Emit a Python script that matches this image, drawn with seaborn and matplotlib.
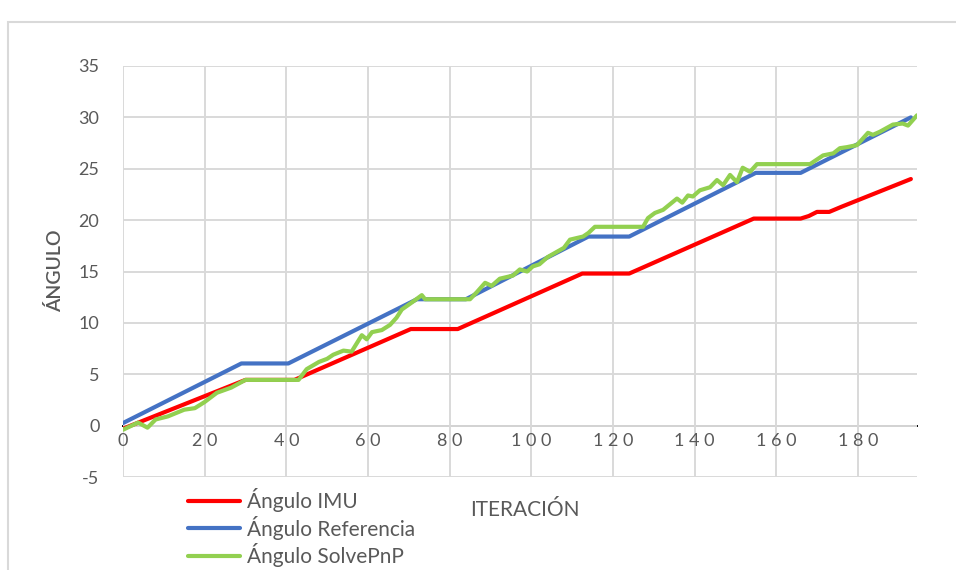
import matplotlib
matplotlib.use("Agg")
import matplotlib.pyplot as plt
from matplotlib.patches import Rectangle
import pandas as pd
import seaborn as sns

# Iteration / angle series
imu_x = [0, 30, 42, 70.5, 82, 112.5, 124, 154.5, 166, 168, 170, 173, 176, 193]
imu_y = [-0.3, 4.45, 4.45, 9.4, 9.4, 14.8, 14.8, 20.15, 20.15, 20.4, 20.8, 20.8, 21.3, 24.0]

ref_x = [0, 29, 40.5, 72, 84, 114, 124, 155, 166, 193]
ref_y = [0.25, 6.05, 6.05, 12.3, 12.3, 18.4, 18.4, 24.6, 24.6, 30.0]

pnp_x = [0, 3.7, 6, 8, 11, 15, 17.6, 20, 23, 26.5, 30, 43, 45, 48, 50, 51.5, 54, 56,
         58.5, 59.7, 61, 63.4, 65.4, 67, 68.3, 70.8, 73.2, 74, 85, 86.7, 88.7, 90.3,
         92.3, 95.5, 97.2, 99, 100.4, 102, 104, 108, 109.5, 112.7, 114, 115.6, 127.4,
         128.6, 130.3, 132.3, 135.7, 137, 138.4, 139.6, 141.3, 143.8, 145.5, 147,
         148.7, 150.4, 151.8, 153.6, 155.3, 168.3, 171.5, 174, 175.6, 177.3, 179.8,
         182.5, 183.7, 185.4, 188.6, 191, 192.3, 194.5]
pnp_y = [-0.4, 0.3, -0.2, 0.6, 0.9, 1.55, 1.7, 2.3, 3.2, 3.7, 4.45, 4.45, 5.5, 6.2,
         6.5, 6.9, 7.3, 7.2, 8.8, 8.4, 9.1, 9.3, 9.8, 10.5, 11.3, 12.0, 12.7, 12.3,
         12.3, 13.0, 13.9, 13.6, 14.3, 14.6, 15.2, 15.0, 15.5, 15.7, 16.4, 17.3, 18.1,
         18.4, 18.75, 19.35, 19.35, 20.2, 20.7, 21.0, 22.1, 21.7, 22.4, 22.3, 22.9,
         23.2, 23.9, 23.4, 24.4, 23.7, 25.1, 24.7, 25.45, 25.45, 26.3, 26.5, 27.0,
         27.1, 27.3, 28.5, 28.3, 28.6, 29.3, 29.4, 29.2, 30.2]

series_names = ["Ángulo IMU", "Ángulo Referencia", "Ángulo SolvePnP"]
series_colors = ["#FF0000", "#4472C4", "#92D050"]

x_ticks = [0, 20, 40, 60, 80, 100, 120, 140, 160, 180]
y_ticks = [-5, 0, 5, 10, 15, 20, 25, 30, 35]

frames = []
for name, xs, ys in zip(series_names, [imu_x, ref_x, pnp_x], [imu_y, ref_y, pnp_y]):
    frames.append(pd.DataFrame({"iter": xs, "ang": ys, "serie": name}))
df = pd.concat(frames, ignore_index=True)

sns.set_style("white")
plt.rcParams["font.family"] = ["Lato", "DejaVu Sans"]

W, H = 956, 570
fig = plt.figure(figsize=(W / 100, H / 100), dpi=100)
ax = fig.add_axes([123 / W, 1 - 477 / H, (917 - 123) / W, (477 - 66) / H])

sns.lineplot(data=df, x="iter", y="ang", hue="serie", hue_order=series_names,
             palette=series_colors, sort=False, estimator=None, linewidth=3.0,
             legend=False, ax=ax)

ax.set_xlim(0, 194.5)
ax.set_ylim(-5, 35)
ax.set_xticks(x_ticks)
ax.set_yticks(y_ticks)
ax.set_xticklabels([" ".join(str(v)) for v in x_ticks])
ax.set_yticklabels([str(v) for v in y_ticks])
ax.set_xlabel("")
ax.set_ylabel("")

grid_c = "#D9D9D9"
ax.grid(True, color=grid_c, linewidth=1.4)
ax.set_axisbelow(True)
for s in ["top", "right", "left"]:
    ax.spines[s].set_visible(False)
ax.spines["bottom"].set_position(("data", 0))
ax.spines["bottom"].set_color("black")
ax.spines["bottom"].set_linewidth(1.4)
ax.spines["bottom"].set_zorder(0.5)

ax.tick_params(axis="x", direction="out", length=4, width=1.4, color="black",
               pad=1, labelsize=13, labelcolor="#595959")
ax.tick_params(axis="y", length=0, pad=17, labelsize=13, labelcolor="#595959")

# Legend below the plot, left side
handles = [plt.Line2D([], [], color=c, linewidth=3.0, solid_capstyle="round")
           for c in series_colors]
fig.legend(handles, series_names, loc="upper left",
           bbox_to_anchor=(188 / W, 1 - 488 / H), frameon=False, borderpad=0,
           borderaxespad=0, handlelength=2.5, handletextpad=0.34,
           labelspacing=0.17, fontsize=15, labelcolor="#595959")

fig.text(525 / W, 1 - 510 / H, "ITERACIÓN", ha="center", va="center",
         fontsize=15, color="#595959")
fig.text(55 / W, 1 - 271 / H, "ÁNGULO", ha="center", va="center", rotation=90,
         fontsize=14, color="#595959", fontweight="semibold")

# Chart area frame
fig.patches.append(Rectangle((8 / W, -0.1), 1.2, 1 - 22 / H + 0.1,
                             transform=fig.transFigure, fill=False,
                             edgecolor="#D9D9D9", linewidth=1.5))

fig.savefig("out.png", dpi=100)
